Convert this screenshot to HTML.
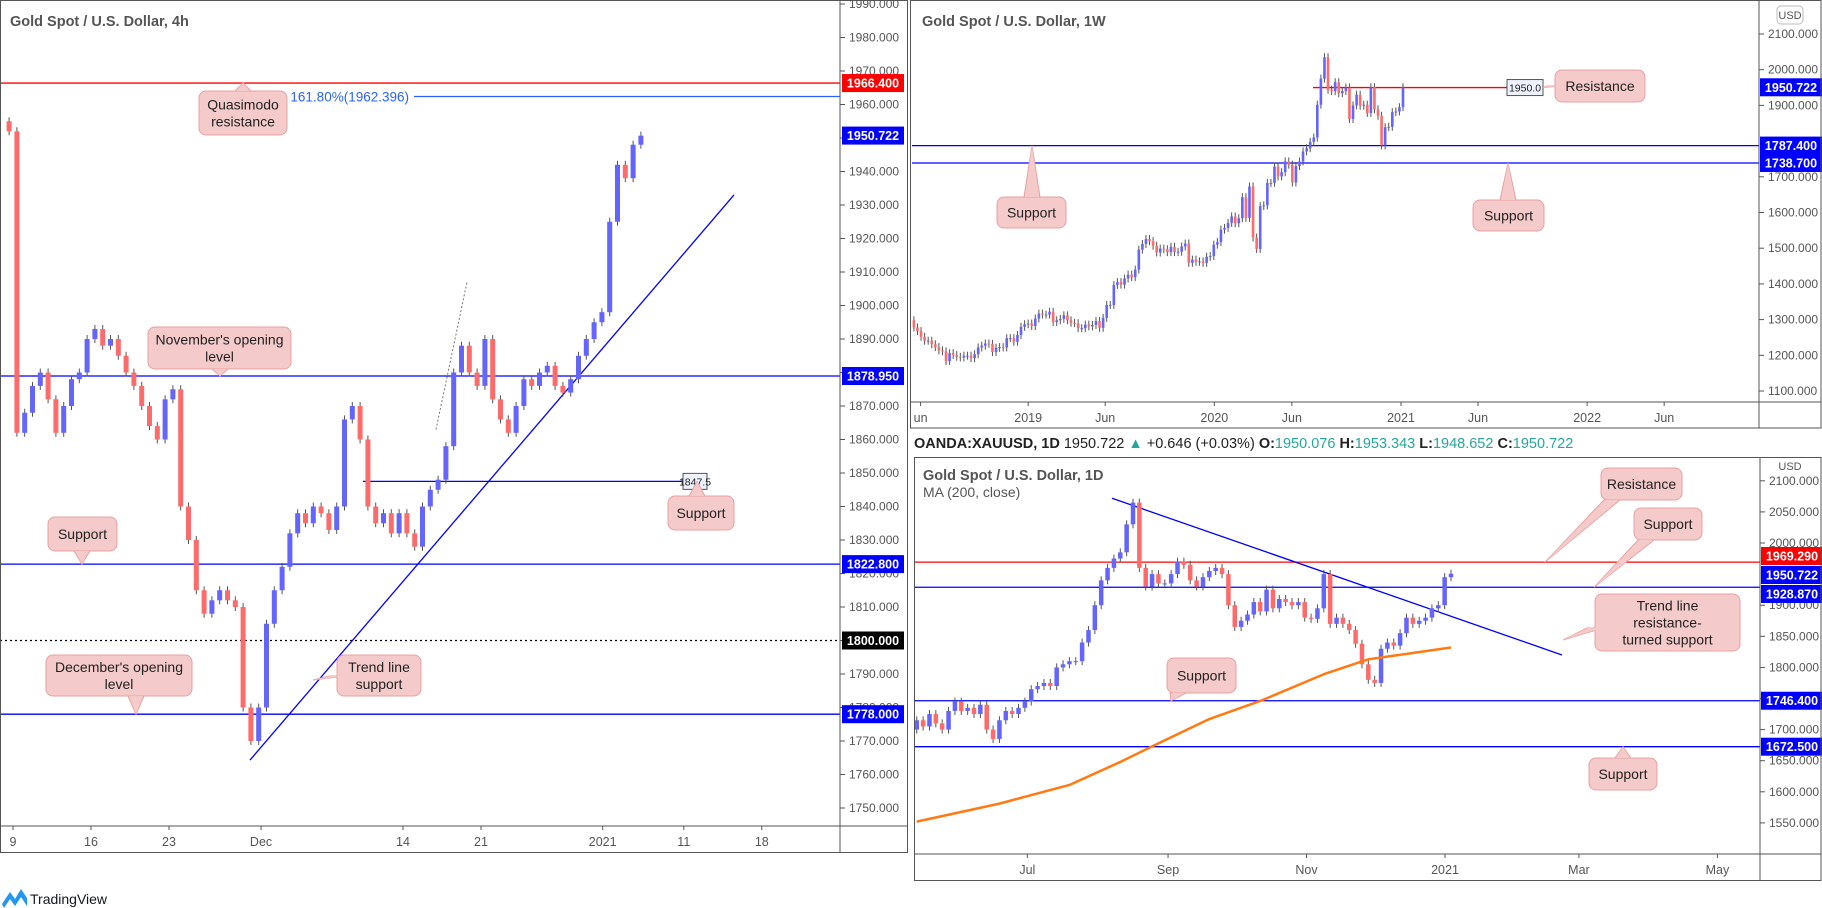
<!DOCTYPE html>
<html><head><meta charset="utf-8"><title>Gold charts</title>
<style>
html,body{margin:0;padding:0;background:#fff;}
svg{display:block;font-family:"Liberation Sans",sans-serif;}
</style></head>
<body>
<svg id="root" width="1822" height="908" viewBox="0 0 1822 908">
<defs>
<clipPath id="clipL"><rect x="1" y="1" width="839" height="825"/></clipPath>
<clipPath id="clipW"><rect x="912" y="1" width="847" height="401"/></clipPath>
<clipPath id="clipD"><rect x="915" y="458" width="845" height="396"/></clipPath>
</defs>
</svg>
<script>
// ---------- DATA ----------
// 4h chart (half-day samples), Nov 2020 - Jan 2021
const h4Closes = [1952,1862,1868,1876,1880,1872,1862,1870,1878,1880,1890,1893,1888,1890,1885,1880,1876,1870,1864,1860,1872,1875,1840,1830,1815,1808,1812,1815,1812,1810,1780,1770,1780,1805,1815,1822,1832,1838,1835,1840,1838,1833,1840,1866,1870,1860,1840,1835,1838,1832,1838,1832,1828,1840,1845,1848,1858,1880,1888,1880,1876,1890,1872,1866,1862,1870,1878,1876,1880,1882,1876,1874,1878,1885,1890,1895,1898,1925,1942,1938,1948,1950.7];
const h4Ticks = [1750,1760,1770,1780,1790,1800,1810,1820,1830,1840,1850,1860,1870,1880,1890,1900,1910,1920,1930,1940,1950,1960,1970,1980,1990];
const h4DateLabels = ["9","16","23","Dec","14","21","2021","11","18"];
const h4DateIdx = [0,5,10,15.9,25,30,37.8,43,48]; // trading-day index

// weekly chart closes Jun 2018 - Jan 2021
const wCloses = [1294,1298,1278,1268,1252,1241,1241,1231,1223,1214,1211,1184,1206,1201,1196,1194,1199,1199,1192,1203,1222,1227,1233,1232,1209,1221,1223,1222,1248,1248,1238,1257,1280,1287,1289,1282,1303,1317,1314,1314,1322,1293,1298,1302,1312,1298,1291,1290,1276,1276,1286,1281,1285,1296,1277,1305,1341,1341,1397,1405,1398,1415,1426,1419,1440,1496,1512,1526,1520,1507,1488,1499,1497,1489,1504,1489,1490,1505,1513,1459,1468,1462,1463,1459,1476,1478,1510,1517,1552,1557,1571,1589,1570,1584,1643,1585,1673,1530,1498,1618,1620,1683,1683,1729,1701,1713,1743,1734,1684,1730,1743,1771,1780,1798,1810,1902,1975,2035,1944,1940,1965,1934,1940,1950,1862,1900,1930,1899,1902,1879,1951,1889,1871,1788,1839,1840,1881,1883,1895,1950.7];
const wTicks = [1100,1200,1300,1400,1500,1600,1700,1900,2000,2100];
const wDateLabels = ["un","2019","Jun","2020","Jun","2021","Jun","2022","Jun"];
const wDateDays = [-942,-731,-580,-366,-214,0,151,365,516]; // days from 2021-01-01

// daily chart closes (2-day samples) May 2020 - Jan 2021
const dCloses = [1715,1705,1725,1710,1700,1730,1745,1730,1735,1725,1740,1700,1685,1715,1730,1725,1735,1745,1765,1770,1775,1770,1800,1805,1810,1810,1840,1860,1900,1940,1960,1975,1985,2030,2065,1960,1930,1950,1935,1935,1950,1970,1965,1940,1930,1945,1955,1960,1950,1900,1865,1875,1885,1905,1890,1925,1895,1910,1905,1900,1905,1880,1878,1895,1950,1870,1880,1870,1860,1838,1805,1780,1775,1830,1840,1835,1855,1880,1870,1875,1880,1895,1900,1945,1950.7];
const maIdx = [0,13,24,32,37,46,54,64,71,84];
const maVals = [1552,1581,1611,1648,1673,1717,1746,1789,1813,1832];
const dTicks = [1550,1600,1650,1700,1750,1800,1850,1900,2000,2050,2100];
const dDateLabels = ["Jul","Sep","Nov","2021","Mar","May"];
const dDateDays = [-184,-122,-61,0,59,120];

// ---------- HELPERS ----------
const NS = "http://www.w3.org/2000/svg";
const root = document.getElementById('root');
function add(parent, tag, attrs, name, text){
  const el = document.createElementNS(NS, tag);
  for (const k in attrs) el.setAttribute(k, attrs[k]);
  
  
  if (text !== undefined) el.textContent = text;
  parent.appendChild(el);
  return el;
}
const UP = '#6464ff', DN = '#ff6b6b', WICK = '#555';
function candles(g, closes, firstOpen, xf, yf, w, name){
  let open = firstOpen;
  closes.forEach((c, i) => {
    const x = xf(i), yo = yf(open), yc = yf(c);
    const top = Math.min(yo, yc), bot = Math.max(yo, yc);
    add(g, 'line', {x1:x, x2:x, y1:top-4, y2:bot+4, stroke:WICK, 'stroke-width':1}, name + '-wick');
    add(g, 'rect', {x:x-w/2, y:top, width:w, height:Math.max(1, bot-top), fill: c >= open ? UP : DN}, name + '-candle');
    open = c;
  });
}
function hline(g, y, x1, x2, color, name, dash){
  const a = {x1:x1, x2:x2, y1:y, y2:y, stroke:color, 'stroke-width':1.3};
  if (dash) a['stroke-dasharray'] = dash;
  add(g, 'line', a, name);
}
function priceTag(g, axisX, y, text, bg, name){
  add(g, 'rect', {x:axisX, y:y-9, width:62, height:18, fill:bg}, name);
  add(g, 'text', {x:axisX+31, y:y+4.5, fill:'#fff', 'font-size':12.5, 'font-weight':'bold', 'text-anchor':'middle'}, name + '-text', text);
}
function callout(g, x1, y1, x2, y2, tx, ty, bx, by, lines, name){
  const fill = '#f5caca', st = '#e8a0a0';
  const grp = add(g, 'g', {}, name);
  add(grp, 'polygon', {points:`${bx-8},${by} ${bx+8},${by} ${tx},${ty}`, fill:fill, stroke:st}, name + '-pointer');
  add(grp, 'rect', {x:x1, y:y1, width:x2-x1, height:y2-y1, rx:7, fill:fill, stroke:st}, name + '-box');
  add(grp, 'polygon', {points:`${bx-7},${by} ${bx+7},${by} ${tx},${ty}`, fill:fill}, name + '-pointer-fill');
  const cx = (x1+x2)/2, cy = (y1+y2)/2, lh = 17;
  lines.forEach((t, i) => {
    add(grp, 'text', {x:cx, y:cy + (i - (lines.length-1)/2)*lh + 5, 'font-size':14, fill:'#222', 'text-anchor':'middle'}, name + '-text', t);
  });
}
function axisTicks(g, axisX, ticks, yf, name){
  ticks.forEach(t => {
    const y = yf(t);
    add(g, 'line', {x1:axisX, x2:axisX+5, y1:y, y2:y, stroke:'#555'}, name + '-tick');
    add(g, 'text', {x:axisX+9, y:y+4, 'font-size':12, fill:'#555'}, name + '-label', t.toFixed(3));
  });
}
function timeLabels(g, xs, labels, yAxis, name){
  labels.forEach((l, i) => {
    add(g, 'line', {x1:xs[i], x2:xs[i], y1:yAxis, y2:yAxis+4, stroke:'#555'}, name + '-tick');
    add(g, 'text', {x:xs[i], y:yAxis+20, 'font-size':12.5, fill:'#555', 'text-anchor':'middle'}, name + '-label', l);
  });
}

// ---------- LEFT 4H CHART ----------
(function(){
  const g = add(root, 'g', {}, 'h4-chart-panel');
  const yL = p => 406 + (1870 - p) * 3.35;
  const xL = i => 13 + 7.8 * (i - 1 + 0.5);
  const plot = add(g, 'g', {'clip-path':'url(#clipL)'}, 'h4-plot-area');
  hline(plot, yL(1966.4), 0, 840, '#ff0000', 'quasimodo-resistance-line');
  hline(plot, yL(1962.396), 414, 840, '#2962ff', 'fib-161-line');
  hline(plot, yL(1878.95), 0, 840, '#0000ff', 'november-open-line');
  hline(plot, yL(1847.5), 363, 690, '#0000ff', 'support-1847-line');
  hline(plot, yL(1822.8), 0, 840, '#0000ff', 'support-1822-line');
  hline(plot, yL(1800), 0, 840, '#000', 'round-1800-line', '2,3');
  hline(plot, yL(1778), 0, 840, '#0000ff', 'december-open-line');
  add(plot, 'line', {x1:436, y1:yL(1863), x2:467, y2:yL(1907), stroke:'#777', 'stroke-dasharray':'2,2'}, 'fib-dotted-line');
  add(plot, 'line', {x1:250, y1:yL(1764.3), x2:734, y2:yL(1933), stroke:'#0000ff', 'stroke-width':1.3}, 'trend-line-support');
  candles(plot, h4Closes, 1955, xL, yL, 5, 'h4');
  add(plot, 'text', {x:409, y:yL(1962.396)+5, fill:'#2962ff', 'font-size':13.5, 'text-anchor':'end'}, 'fib-161-label', '161.80%(1962.396)');
  add(plot, 'rect', {x:683, y:yL(1847.5)-8, width:24, height:16, fill:'#eef2ff', stroke:'#555'}, 'level-1847-tag');
  add(plot, 'text', {x:695, y:yL(1847.5)+4, 'font-size':10.5, fill:'#222', 'text-anchor':'middle'}, 'level-1847-tag-text', '1847.5');
  callout(plot, 199, 91, 287, 135, 243, 83, 243, 91, ['Quasimodo','resistance'], 'quasimodo-callout');
  callout(plot, 148, 327, 291, 369, 220, yL(1878.95), 220, 369, ["November's opening",'level'], 'november-callout');
  callout(plot, 668, 496, 734, 530, 697, yL(1847.5), 697, 496, ['Support'], 'support-1847-callout');
  callout(plot, 48, 517, 117, 551, 82, yL(1822.8), 82, 551, ['Support'], 'support-1822-callout');
  callout(plot, 46, 655, 192, 696, 136, yL(1778), 136, 696, ["December's opening",'level'], 'december-callout');
  callout(plot, 337, 655, 421, 696, 313, 680, 337, 676, ['Trend line','support'], 'trendline-callout');
  add(g, 'text', {x:10, y:26, 'font-size':14.5, 'font-weight':'bold', fill:'#555'}, 'h4-title', 'Gold Spot / U.S. Dollar, 4h');
  add(g, 'line', {x1:840, x2:840, y1:0, y2:853, stroke:'#555'}, 'h4-price-axis-line');
  add(g, 'line', {x1:0, x2:908, y1:826, y2:826, stroke:'#555'}, 'h4-time-axis-line');
  axisTicks(g, 840, h4Ticks, yL, 'h4-price');
  priceTag(g, 842, yL(1966.4), '1966.400', '#ff0000', 'h4-price-tag-1966');
  priceTag(g, 842, yL(1950.722), '1950.722', '#0000ff', 'h4-price-tag-last');
  priceTag(g, 842, yL(1878.95), '1878.950', '#0000ff', 'h4-price-tag-1878');
  priceTag(g, 842, yL(1822.8), '1822.800', '#0000ff', 'h4-price-tag-1822');
  priceTag(g, 842, yL(1800), '1800.000', '#000', 'h4-price-tag-1800');
  priceTag(g, 842, yL(1778), '1778.000', '#0000ff', 'h4-price-tag-1778');
  timeLabels(g, h4DateIdx.map(d => 13 + d * 15.6), h4DateLabels, 826, 'h4-date');
  add(g, 'rect', {x:0.5, y:0.5, width:907, height:852, fill:'none', stroke:'#555'}, 'h4-panel-frame');
})();

// ---------- WEEKLY CHART ----------
(function(){
  const g = add(root, 'g', {}, 'weekly-chart-panel');
  const yW = p => 391 - (p - 1100) * 0.357;
  const n = wCloses.length;
  const xW = i => 1403 - (n - 1 - i) * 3.57;
  const plot = add(g, 'g', {'clip-path':'url(#clipW)'}, 'weekly-plot-area');
  hline(plot, yW(1787.4), 912, 1759, '#0000ff', 'weekly-support-1787-line');
  hline(plot, yW(1738.7), 912, 1759, '#0000ff', 'weekly-support-1738-line');
  hline(plot, yW(1950), 1313, 1510, '#ff0000', 'weekly-resistance-line');
  candles(plot, wCloses, 1300, xW, yW, 2.6, 'weekly');
  add(plot, 'rect', {x:1507, y:yW(1950)-8, width:36, height:16, fill:'#eef2ff', stroke:'#555'}, 'weekly-1950-tag');
  add(plot, 'text', {x:1525, y:yW(1950)+4, 'font-size':10.5, fill:'#222', 'text-anchor':'middle'}, 'weekly-1950-tag-text', '1950.0');
  callout(plot, 1555, 70, 1645, 102, 1543, yW(1950), 1555, 86, ['Resistance'], 'weekly-resistance-callout');
  callout(plot, 997, 197, 1066, 228, 1032, yW(1787.4), 1032, 197, ['Support'], 'weekly-support-left-callout');
  callout(plot, 1473, 200, 1544, 231, 1508, yW(1738.7), 1508, 200, ['Support'], 'weekly-support-right-callout');
  add(g, 'text', {x:922, y:26, 'font-size':14.5, 'font-weight':'bold', fill:'#555'}, 'weekly-title', 'Gold Spot / U.S. Dollar, 1W');
  add(g, 'line', {x1:1759, x2:1759, y1:0, y2:428, stroke:'#555'}, 'weekly-price-axis-line');
  add(g, 'line', {x1:910, x2:1821, y1:402, y2:402, stroke:'#555'}, 'weekly-time-axis-line');
  axisTicks(g, 1759, wTicks, yW, 'weekly-price');
  add(g, 'rect', {x:1777, y:6, width:26, height:18, rx:4, fill:'#fff', stroke:'#bbb'}, 'weekly-currency-button');
  add(g, 'text', {x:1790, y:19, 'font-size':11, fill:'#555', 'text-anchor':'middle'}, 'weekly-currency-label', 'USD');
  priceTag(g, 1760, yW(1950.722), '1950.722', '#0000ff', 'weekly-price-tag-last');
  priceTag(g, 1760, yW(1787.4), '1787.400', '#0000ff', 'weekly-price-tag-1787');
  priceTag(g, 1760, yW(1738.7), '1738.700', '#0000ff', 'weekly-price-tag-1738');
  timeLabels(g, wDateDays.map(d => 1401 + d * 0.51), wDateLabels, 402, 'weekly-date');
  add(g, 'rect', {x:910.5, y:0.5, width:910.5, height:427.5, fill:'none', stroke:'#555'}, 'weekly-panel-frame');
})();

// ---------- DAILY CHART ----------
(function(){
  const g = add(root, 'g', {}, 'daily-chart-panel');
  const yD = p => 543 + (2000 - p) * 0.622;
  const n = dCloses.length;
  const xD = i => 1451 - (n - 1 - i) * 6.36;
  const header = add(g, 'text', {x:914, y:448, 'font-size':14.5, fill:'#222'}, 'daily-header-legend');
  const parts = [["OANDA:XAUUSD, 1D ","#222","bold"],["1950.722 ","#222","normal"],["▲ ","#26a69a","normal"],["+0.646 (+0.03%) ","#222","normal"],["O:","#222","bold"],["1950.076 ","#26a69a","normal"],["H:","#222","bold"],["1953.343 ","#26a69a","normal"],["L:","#222","bold"],["1948.652 ","#26a69a","normal"],["C:","#222","bold"],["1950.722","#26a69a","normal"]];
  parts.forEach(p => { add(header, 'tspan', {fill:p[1], 'font-weight':p[2]}, 'daily-header-part', p[0]); });
  const plot = add(g, 'g', {'clip-path':'url(#clipD)'}, 'daily-plot-area');
  hline(plot, yD(1969.29), 914, 1760, '#ff0000', 'daily-resistance-line');
  hline(plot, yD(1928.87), 914, 1760, '#0000ff', 'daily-support-1928-line');
  hline(plot, yD(1746.4), 914, 1760, '#0000ff', 'daily-support-1746-line');
  hline(plot, yD(1672.5), 914, 1760, '#0000ff', 'daily-support-1672-line');
  add(plot, 'line', {x1:1112, y1:yD(2072), x2:1562, y2:yD(1820), stroke:'#0000ff', 'stroke-width':1.3}, 'daily-trend-line');
  candles(plot, dCloses, 1700, xD, yD, 4.5, 'daily');
  const maPts = maIdx.map((k, j) => `${xD(k)},${yD(maVals[j])}`).join(' ');
  add(plot, 'polyline', {points:maPts, fill:'none', stroke:'#ff7a12', 'stroke-width':2.5, 'stroke-linejoin':'round'}, 'ma-200-line');
  callout(plot, 1601, 468, 1682, 500, 1545, yD(1969.29), 1612, 500, ['Resistance'], 'daily-resistance-callout');
  callout(plot, 1634, 508, 1702, 540, 1594, yD(1928.87), 1646, 540, ['Support'], 'daily-support-1928-callout');
  callout(plot, 1595, 594, 1740, 651, 1563, 640, 1595, 628, ['Trend line','resistance-','turned support'], 'daily-trendline-callout');
  callout(plot, 1167, 658, 1236, 693, 1171, yD(1746.4), 1178, 693, ['Support'], 'daily-support-1746-callout');
  callout(plot, 1589, 758, 1657, 790, 1623, yD(1672.5), 1623, 758, ['Support'], 'daily-support-1672-callout');
  add(g, 'text', {x:923, y:480, 'font-size':14.5, 'font-weight':'bold', fill:'#555'}, 'daily-title', 'Gold Spot / U.S. Dollar, 1D');
  add(g, 'text', {x:923, y:497, 'font-size':14, fill:'#555'}, 'daily-ma-legend', 'MA (200, close)');
  add(g, 'line', {x1:1760, x2:1760, y1:457, y2:881, stroke:'#555'}, 'daily-price-axis-line');
  add(g, 'line', {x1:914, x2:1821, y1:854, y2:854, stroke:'#555'}, 'daily-time-axis-line');
  axisTicks(g, 1760, dTicks, yD, 'daily-price');
  add(g, 'text', {x:1790, y:470, 'font-size':11, fill:'#555', 'text-anchor':'middle'}, 'daily-currency-label', 'USD');
  priceTag(g, 1761, 556, '1969.290', '#ff0000', 'daily-price-tag-1969');
  priceTag(g, 1761, 575, '1950.722', '#0000ff', 'daily-price-tag-last');
  priceTag(g, 1761, 594, '1928.870', '#0000ff', 'daily-price-tag-1928');
  priceTag(g, 1761, yD(1746.4), '1746.400', '#0000ff', 'daily-price-tag-1746');
  priceTag(g, 1761, yD(1672.5), '1672.500', '#0000ff', 'daily-price-tag-1672');
  timeLabels(g, dDateDays.map(d => 1445 + d * 2.27), dDateLabels, 854, 'daily-date');
  add(g, 'rect', {x:914.5, y:457.5, width:906.5, height:423, fill:'none', stroke:'#555'}, 'daily-panel-frame');
})();

// ---------- LOGO ----------
(function(){
  const g = add(root, 'g', {}, 'tradingview-logo');
  add(g, 'path', {d:'M2 904 L10 892 L15 899 L21 889 L27 898 L27 906 L21 897 L15 906 L10 899 L4 908 Z', fill:'#2196f3'}, 'tradingview-logo-icon');
  add(g, 'text', {x:30, y:904, 'font-size':14, fill:'#131722'}, 'tradingview-logo-text', 'TradingView');
})();
</script>
</body></html>
